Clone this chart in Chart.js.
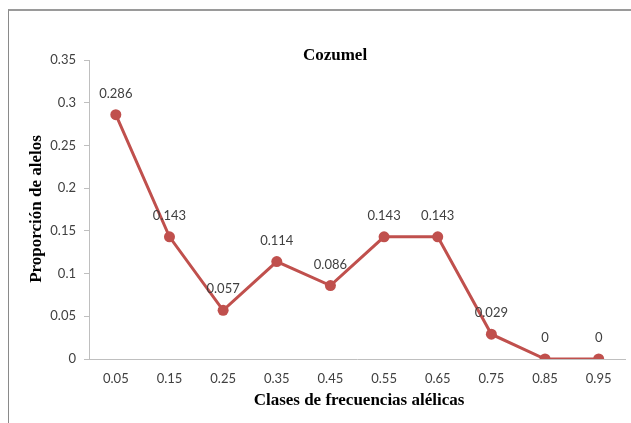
<!DOCTYPE html>
<html>
<head>
<meta charset="utf-8">
<script src="https://cdn.jsdelivr.net/npm/chart.js@4"></script>
<style>
  html, body { margin: 0; padding: 0; background: #fff; overflow: hidden; }
  #wrap { position: relative; width: 631px; height: 423px; }
  #frame { position: absolute; left: 8px; top: 9px; width: 640px; height: 430px;
           border-left: 1px solid #8a8a8a; border-top: 2px solid #9a9a9a; }
  canvas { position: absolute; left: 0; top: 0; }
</style>
</head>
<body>
<div id="wrap">
  <div id="frame"></div>
  <canvas id="myChart" width="631" height="423"></canvas>
</div>
<script>
let clases = ['0.05', '0.15', '0.25', '0.35', '0.45', '0.55', '0.65', '0.75', '0.85', '0.95'];
let proporcion = [0.286, 0.143, 0.057, 0.114, 0.086, 0.143, 0.143, 0.029, 0, 0];
let yTicks = [0, 0.05, 0.1, 0.15, 0.2, 0.25, 0.3, 0.35];

let tickFont = { family: 'Lato, "Open Sans", sans-serif', size: 13 };
let serif = '"Liberation Serif", "DejaVu Serif", serif';

// titles and point labels drawn straight onto the canvas
const textPlugin = {
    id: 'textPlugin',
    afterDatasetsDraw(chart) {
        let ctx = chart.ctx;
        ctx.save();
        // value labels above each point
        ctx.font = '13px ' + tickFont.family;
        ctx.fillStyle = '#404040';
        ctx.textAlign = 'center';
        ctx.textBaseline = 'middle';
        chart.getDatasetMeta(0).data.forEach(function(pt, i){
            ctx.fillText(String(proporcion[i]), pt.x, pt.y - 21);
        });

        ctx.fillStyle = '#000';
        ctx.font = 'bold 17px ' + serif;
        ctx.fillText('Cozumel', 335, 56);

        ctx.font = 'bold 17px ' + serif;
        ctx.fillText('Clases de frecuencias alélicas', 359, 401);

        ctx.translate(37, 209);
        ctx.rotate(-Math.PI / 2);
        ctx.fillText('Proporción de alelos', 0, 0);
        ctx.restore();
    }
};

let ctx = document.getElementById('myChart').getContext('2d');
let myChart = new Chart(ctx, {
    type: 'line',
    data: {
        labels: clases,
        datasets: [{
            data: proporcion,
            borderColor: '#C0504D',
            backgroundColor: '#C0504D',
            borderWidth: 3,
            pointRadius: 5.5,
            pointHoverRadius: 5.5,
            pointBorderWidth: 0,
            tension: 0
        }]
    },
    options: {
        responsive: false,
        animation: false,
        layout: { padding: { left: 0, top: 60, right: 3, bottom: 0 } },
        plugins: {
            legend: { display: false },
            title: { display: false },
            tooltip: { enabled: false }
        },
        scales: {
            x: {
                offset: true,
                grid: { display: true, drawOnChartArea: false, drawTicks: false },
                border: { color: '#BFBFBF', width: 1 },
                ticks: { color: '#404040', font: tickFont, padding: 12, maxRotation: 0 },
                afterFit: function(scale){ scale.height = 64; }
            },
            y: {
                min: 0,
                max: 0.35,
                afterBuildTicks: function(scale){
                    scale.ticks = yTicks.map(function(v){ return { value: v }; });
                },
                grid: { drawOnChartArea: false, drawTicks: true, tickLength: 5, color: '#BFBFBF' },
                border: { color: '#BFBFBF', width: 1 },
                ticks: {
                    color: '#404040',
                    font: tickFont,
                    padding: 8,
                    callback: function(v){ return String(Math.round(v * 100) / 100); }
                },
                afterFit: function(scale){ scale.width = 89; }
            }
        }
    },
    plugins: [textPlugin]
});
</script>
</body>
</html>
